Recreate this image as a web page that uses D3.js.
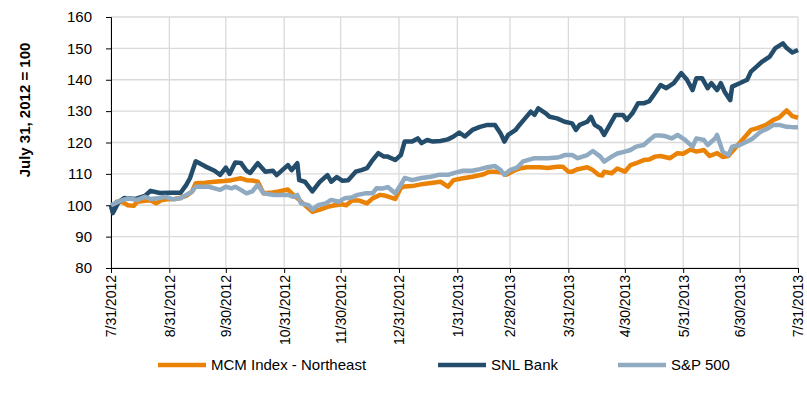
<!DOCTYPE html>
<html>
<head>
<meta charset="utf-8">
<script src="https://cdn.jsdelivr.net/npm/d3@7"></script>
<style>
  body { margin: 0; background: #fff; }
  svg text { font-family: Arial, "Liberation Sans", sans-serif; fill: #000; }
</style>
</head>
<body>
<svg id="chart" width="807" height="401"></svg>
<script>
// series names, in legend order
const seriesNames = ["MCM Index - Northeast", "SNL Bank", "S&P 500"];

// x tick labels (month ends)
const tickLabels = ["7/31/2012", "8/31/2012", "9/30/2012", "10/31/2012", "11/30/2012", "12/31/2012",
    "1/31/2013", "2/28/2013", "3/31/2013", "4/30/2013", "5/31/2013", "6/30/2013", "7/31/2013"];
const yTicks = [80, 90, 100, 110, 120, 130, 140, 150, 160];
const startLabel = "7/31/2012";

// [days since 7/31/2012, index value]
const mcmNortheast = [[0,99.5],[1,97.9],[3,101.1],[6,101],[9,100],[12,99.8],[14,101.1],[18,101.4],[21,101.6],
    [24,100.6],[27,101.7],[30,101.9],[34,102],[37,102.4],[40,103],[43,104.3],[45,107],[50,107.2],[55,107.5],
    [60,107.7],[64,108],[69,108.6],[72,108],[75,107.9],[78,107.5],[81,103.8],[86,104.1],[89,104.4],[94,105],
    [96,103.8],[100,101.7],[104,99.5],[107,97.9],[111,98.6],[115,99.5],[119,100],[123,100.3],[125,100],
    [128,101.5],[132,101.5],[136,100.6],[139,102.2],[143,103.3],[146,103],[151,102],[154,105.5],[156,106],
    [160,106.1],[166,106.8],[171,107.2],[175,107.5],[179,105.9],[182,108],[187,108.6],[192,109.1],[198,109.9],
    [201,110.7],[204,110.7],[207,110.5],[210,109.7],[214,111],[217,111.7],[221,112.1],[225,112.1],[228,112.1],
    [232,111.9],[237,112.3],[240,112.3],[243,110.7],[245,110.7],[248,111.5],[253,112.1],[256,111.2],[259,109.7],
    [261,109.5],[262,110.7],[266,110.2],[269,111.7],[273,110.7],[276,112.8],[279,113.4],[283,114.4],[286,114.6],
    [289,115.5],[292,115.7],[297,115],[301,116.6],[304,116.4],[308,117.8],[311,117.1],[315,117.6],[318,115.7],
    [322,116.6],[325,115.4],[328,115.7],[330,117.1],[333,119.2],[337,121.9],[340,124],[343,124.5],[348,125.6],
    [352,127.2],[355,127.9],[359,130.2],[362,128.4],[365,127.9]];

const snlBank = [[0,100],[1,97.5],[4,101],[7,102.3],[13,102],[18,103],[21,104.6],[26,103.9],[31,104],[37,104],
    [40,106.5],[42,108.7],[45,114],[50,112.4],[55,111],[58,109.7],[61,112],[63,110],[66,113.6],[69,113.5],
    [72,111],[74,110.3],[78,113.4],[82,110.7],[86,111],[88,109.6],[94,112.8],[96,111.2],[99,113.4],[100,108],
    [103,107.5],[107,104.4],[111,107.5],[115,109.6],[117,107.5],[120,109],[123,107.8],[126,108],[130,110.7],
    [133,111.2],[136,111.8],[139,114.4],[142,116.6],[145,115.5],[147,115.5],[151,114.4],[154,116],[156,120.3],
    [160,120.3],[163,121.3],[165,119.8],[168,120.8],[171,120.3],[175,120.5],[179,121],[182,121.9],[185,123.2],
    [188,121.9],[192,124],[196,125],[200,125.6],[204,125.6],[207,122.9],[209,120.3],[211,122.4],[215,124],
    [217,125.6],[220,127.7],[223,129.8],[225,128.8],[227,130.9],[231,129.3],[233,128.2],[237,127.7],[241,126.6],
    [245,126.1],[247,124],[249,125.6],[253,126.6],[255,128.2],[257,125.6],[260,124.5],[262,122.4],[265,125.6],
    [268,128.8],[272,128.8],[274,127.2],[277,129.3],[280,132.5],[283,132.5],[286,133.2],[289,135.7],[292,138.3],
    [295,137.3],[299,138.9],[303,142.1],[306,140],[309,136.7],[311,140.5],[314,140.5],[317,137.3],[319,138.9],
    [322,136.7],[324,138.9],[326,136.2],[329,133.5],[330,137.8],[334,138.9],[338,140],[340,142.6],[343,144.2],
    [346,145.8],[350,147.4],[353,150.1],[357,151.6],[359,150.1],[362,148.7],[365,149.5]];

const sp500 = [[0,100],[2,100.6],[5,101.4],[9,102.2],[14,101.7],[18,102.7],[21,102],[25,102.2],[29,102.7],
    [33,101.9],[37,102.2],[40,103.3],[43,104.3],[45,105.9],[48,105.9],[52,105.9],[55,105.4],[58,104.9],[61,105.9],
    [64,105.4],[66,105.9],[69,104.9],[72,103.8],[75,104.4],[78,106.5],[81,103.8],[86,103.3],[91,103.3],[94,103.3],
    [97,102.7],[99,103.3],[101,100.6],[105,100],[107,98.6],[110,100],[114,100.6],[117,101.7],[121,101.1],
    [124,102.2],[128,102.5],[131,103.3],[135,103.8],[139,103.8],[141,105.4],[144,105.3],[147,105.8],[151,103.8],
    [154,106.5],[156,108.7],[160,108],[165,108.7],[170,109.1],[174,109.7],[179,109.7],[183,110.4],[187,111],
    [192,111],[196,111.5],[200,112.1],[204,112.5],[207,111.2],[209,109.7],[212,111.2],[216,112.1],[219,114],
    [225,115],[228,115],[232,115],[237,115.2],[239,115.5],[241,116],[245,116],[248,115],[253,116],[256,117.3],
    [260,115.5],[262,113.9],[266,115.5],[269,116.5],[273,117.1],[276,117.6],[279,118.7],[283,119.2],[286,120.8],
    [289,122.2],[292,122.2],[294,122.1],[298,121.3],[301,122.4],[305,120.8],[309,118.7],[311,121.3],[315,120.8],
    [317,119.2],[321,121.3],[322,122.4],[325,117.1],[328,116],[330,118.7],[334,119.2],[338,120.3],[341,121.3],
    [345,123.4],[349,124.5],[352,125.6],[355,125.6],[359,125],[362,124.9],[365,124.9]];

const allSeries = [mcmNortheast, snlBank, sp500];
const colors = ["#EA8205", "#244D6B", "#8FAAC1"];

const parseDate = d3.timeParse("%m/%d/%Y");
const startDate = parseDate(startLabel);
const tickDates = tickLabels.map(parseDate);

const svg = d3.select("#chart");

const margin = {left: 111, right: 9, top: 17, bottom: 133};
const width = 807, height = 401;

const x = d3.scaleTime()
    .domain([tickDates[0], tickDates[tickDates.length - 1]])
    .range([margin.left, width - margin.right]);
const y = d3.scaleLinear()
    .domain([80, 160])
    .range([height - margin.bottom, margin.top]);

// gridlines
svg.append("g")
    .selectAll("line")
    .data(yTicks)
    .join("line")
    .attr("x1", margin.left).attr("x2", width - margin.right)
    .attr("y1", d => y(d)).attr("y2", d => y(d))
    .attr("stroke", "#dadada").attr("stroke-width", 1.3);
svg.append("g")
    .selectAll("line")
    .data(tickDates)
    .join("line")
    .attr("x1", d => x(d)).attr("x2", d => x(d))
    .attr("y1", margin.top).attr("y2", height - margin.bottom)
    .attr("stroke", "#dadada").attr("stroke-width", 1.3);

// y axis
let yAxis = svg.append("g")
    .attr("transform", `translate(${margin.left},0)`)
    .call(d3.axisLeft(y).tickValues(yTicks).tickSize(5).tickPadding(14));
yAxis.select(".domain").attr("stroke", "#000");
yAxis.selectAll("text").style("font-size", "15px");

// x axis
let xAxis = svg.append("g")
    .attr("transform", `translate(0,${height - margin.bottom})`)
    .call(d3.axisBottom(x).tickValues(tickDates).tickSize(5)
        .tickFormat((d, i) => tickLabels[i]));
xAxis.select(".domain").attr("stroke", "#000");
xAxis.selectAll("text")
    .style("font-size", "14px")
    .attr("text-anchor", "end")
    .attr("transform", "rotate(-90)")
    .attr("x", -7)
    .attr("y", 0)
    .attr("dy", "0.35em");

// y title
svg.append("text")
    .attr("transform", "translate(30,110) rotate(-90)")
    .attr("text-anchor", "middle")
    .style("font-size", "15px")
    .style("font-weight", "bold")
    .text("July 31, 2012 = 100");

// lines
const line = d3.line()
    .x(d => x(d3.timeDay.offset(startDate, d[0])))
    .y(d => y(d[1]));

svg.append("g")
    .selectAll("path")
    .data(allSeries)
    .join("path")
    .attr("d", line)
    .attr("fill", "none")
    .attr("stroke", (d, i) => colors[i])
    .attr("stroke-width", 4.5)
    .attr("stroke-linejoin", "round");

// legend
const legendX = [158, 438, 618];
const legendY = 365;
let legend = svg.append("g")
    .selectAll("g")
    .data(seriesNames)
    .join("g")
    .attr("transform", (d, i) => `translate(${legendX[i]},${legendY})`);
legend.append("line")
    .attr("x1", 0).attr("x2", 48)
    .attr("stroke", (d, i) => colors[i])
    .attr("stroke-width", 4.5);
legend.append("text")
    .attr("x", 53)
    .attr("dy", "0.35em")
    .style("font-size", "15px")
    .text(d => d);
</script>
</body>
</html>
